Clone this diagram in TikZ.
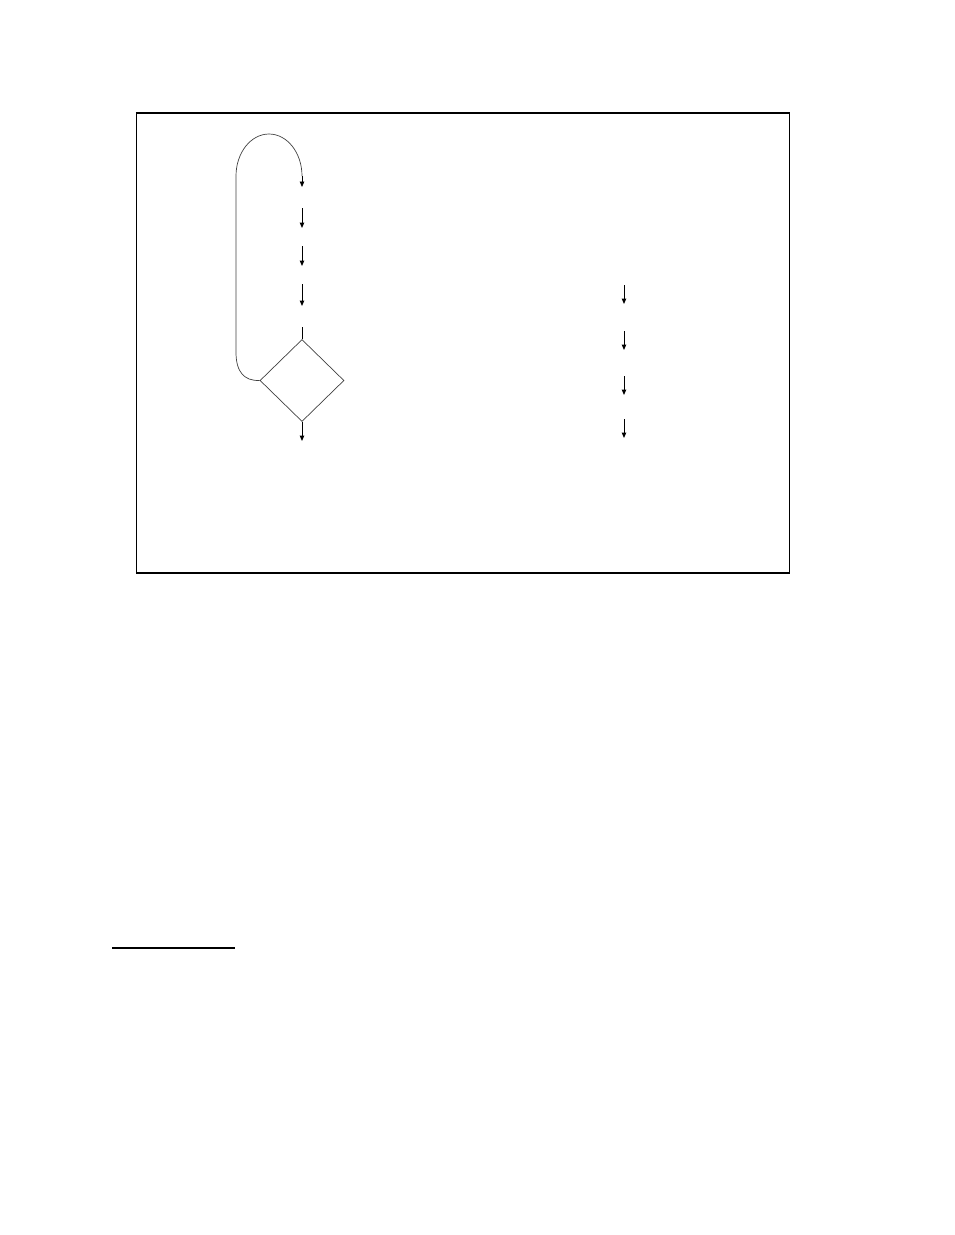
\documentclass[tikz,border=0pt]{standalone}
\usetikzlibrary{shapes.geometric,arrows.meta}
\begin{document}
\begin{tikzpicture}[x=1pt,y=-1pt,
  arr/.style={line width=1pt,-{Triangle[length=5.5pt,width=4.5pt]}},
  thinline/.style={line width=0.7pt,black!75},
  frameh/.style={line width=2pt},
  framev/.style={line width=1.2pt}]
\useasboundingbox (0,0) rectangle (954,1235);
% frame
\coordinate (tl) at (136.5,113);
\coordinate (tr) at (789.5,113);
\coordinate (bl) at (136.5,572.5);
\coordinate (br) at (789.5,572.5);
\draw[frameh] ([xshift=-0.6pt]tl) -- ([xshift=0.6pt]tr);
\draw[frameh] ([xshift=-0.6pt]bl) -- ([xshift=0.6pt]br);
\draw[framev] (tl) -- (bl);
\draw[framev] (tr) -- (br);
% diamond
\node[diamond,draw,thinline,minimum width=84pt,minimum height=82pt,inner sep=0pt] (dia) at (302,380.5) {};
% left column arrows
\coordinate (a1s) at (302,176);
\coordinate (a1e) at (302,187);
\coordinate (a2s) at (302,208);
\coordinate (a2e) at (302,228);
\coordinate (a3s) at (302,246);
\coordinate (a3e) at (302,266);
\coordinate (a4s) at (302,284);
\coordinate (a4e) at (302,306);
\coordinate (a5s) at (302,327);
\coordinate (a6e) at (302,441);
\draw[arr] (a2s) -- (a2e);
\draw[arr] (a3s) -- (a3e);
\draw[arr] (a4s) -- (a4e);
\draw[line width=1pt] (a5s) -- (dia.north);
\draw[arr] (dia.south) -- (a6e);
% loop
\coordinate (lp1) at (236,352);
\coordinate (lp2) at (236,176);
\draw[thinline] (dia.west) .. controls (244,381) and (236,372) .. (lp1) -- (lp2)
  arc[start angle=180,end angle=360,x radius=33,y radius=42];
\draw[arr,line width=0.8pt] (a1s) -- (a1e);
% right column arrows
\coordinate (b1s) at (624,285);
\coordinate (b1e) at (624,304);
\coordinate (b2s) at (624,331);
\coordinate (b2e) at (624,350);
\coordinate (b3s) at (624,376);
\coordinate (b3e) at (624,395);
\coordinate (b4s) at (624,419);
\coordinate (b4e) at (624,438);
\draw[arr] (b1s) -- (b1e);
\draw[arr] (b2s) -- (b2e);
\draw[arr] (b3s) -- (b3e);
\draw[arr] (b4s) -- (b4e);
% footnote rule
\coordinate (r1) at (112,948);
\coordinate (r2) at (235,948);
\draw[line width=1.2pt] (r1) -- (r2);
\end{tikzpicture}
\end{document}
